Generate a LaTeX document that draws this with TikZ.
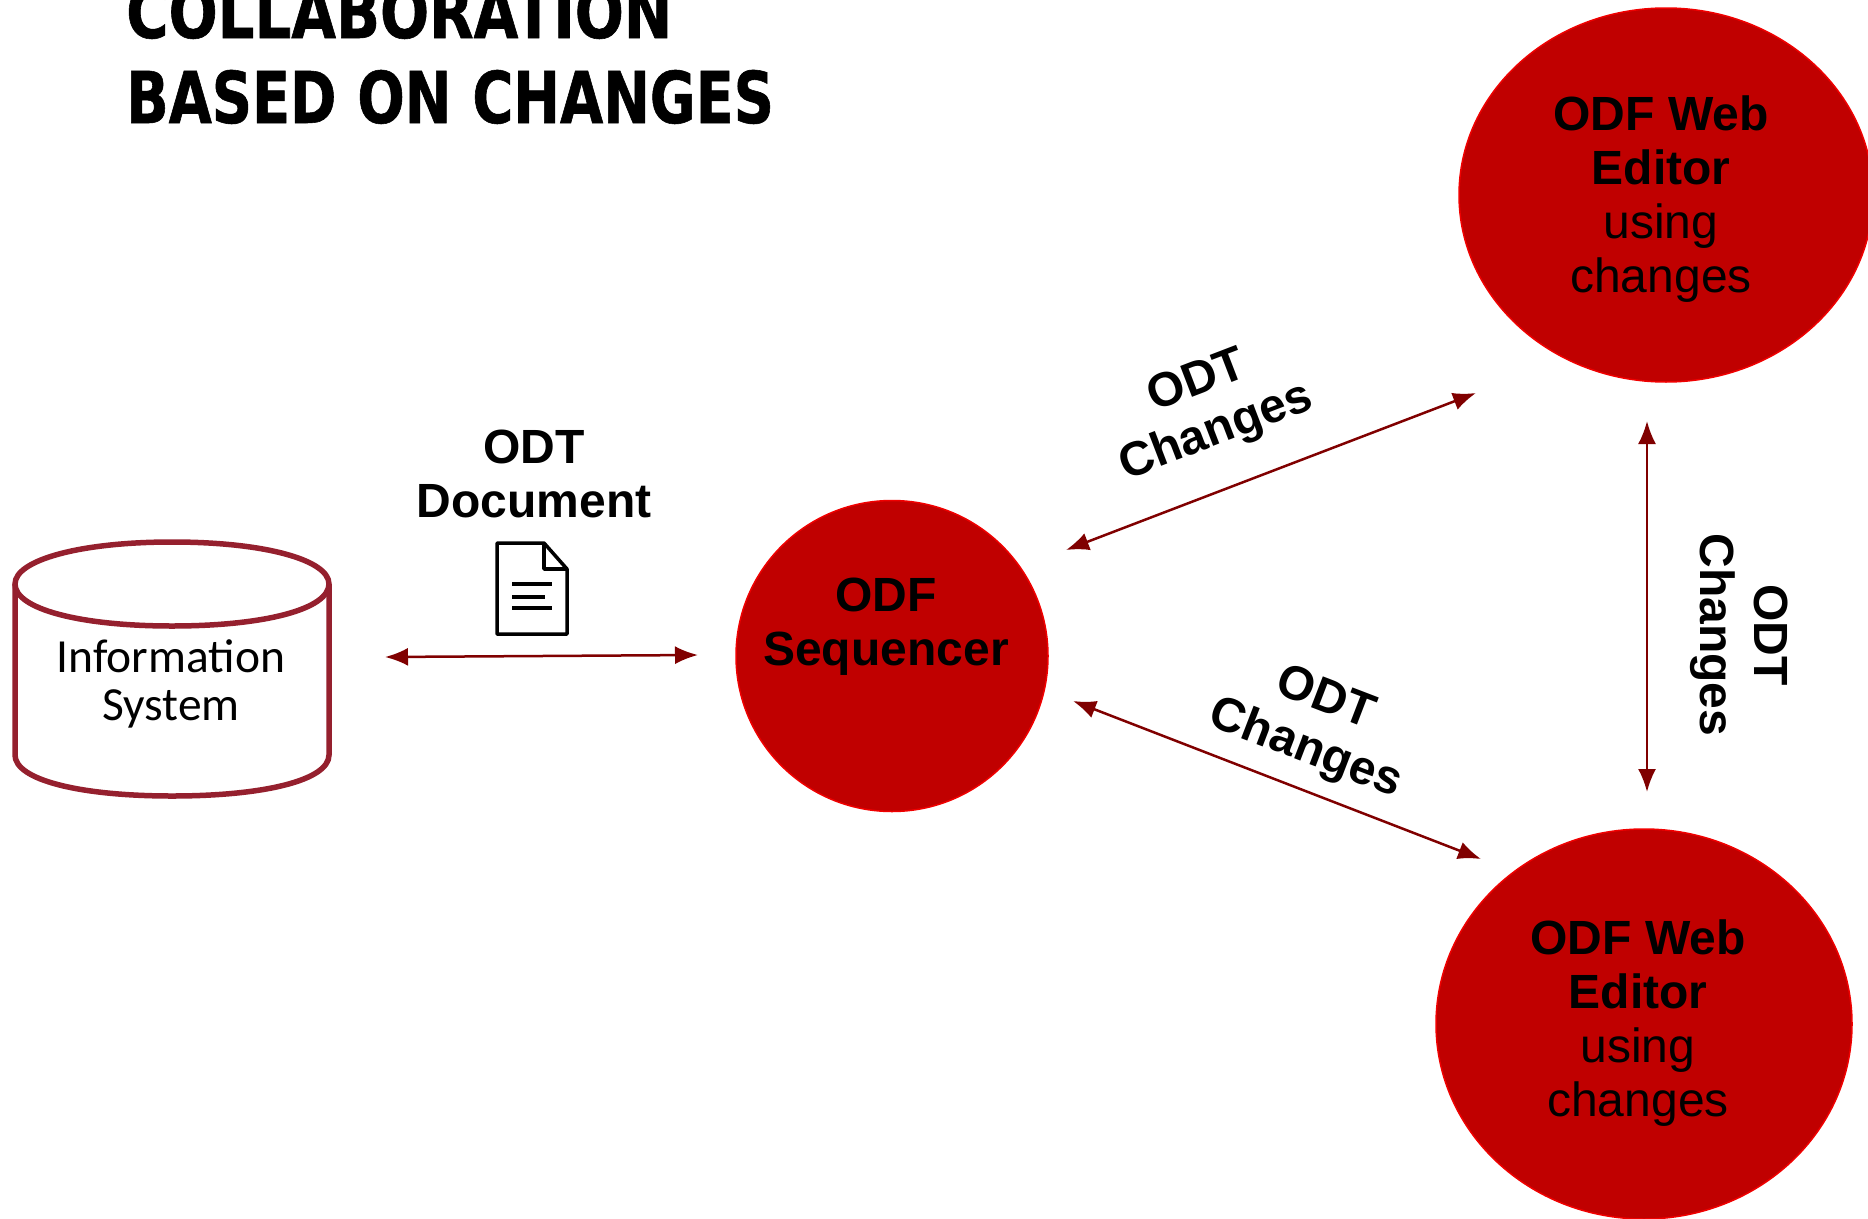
\documentclass[tikz,border=0pt]{standalone}
\usepackage{xcolor}
\usepackage{fontspec}
\usepackage{tikz}
\usetikzlibrary{arrows.meta}
\usetikzlibrary{shapes.geometric}
\setmainfont{Liberation Sans}
\newfontfamily\carlitofont{Carlito}
\newfontfamily\titlefont[FakeStretch=0.808,FakeBold=0.8]{DejaVu Sans Bold}
\newfontfamily\titlefontb[FakeStretch=0.78,FakeBold=0.8,WordSpace=1.08]{DejaVu Sans Bold}
\definecolor{odfred}{HTML}{C00000}
\definecolor{edgered}{HTML}{F00000}
\definecolor{canred}{HTML}{95202E}
\definecolor{linkred}{HTML}{800000}
\tikzset{>=Latex}
\tikzstyle{blob} = [ellipse, fill = odfred, draw = edgered, line width = 1.5pt, inner sep = 0]
\tikzstyle{lbl} = [align = center, inner sep = 0, font = \fontsize{48}{53.8}\selectfont]
\tikzstyle{ttl} = [anchor = base west, inner sep = 0, font = \fontsize{71.5}{85}\selectfont]
\tikzstyle{link} = [{Latex[length=23pt,width=18pt]}-{Latex[length=23pt,width=18pt]}, draw = linkred, line width = 2.5pt]

\begin{document}
\begin{tikzpicture}[x = 1pt, y = -1pt]
\clip (0, 0) rectangle (1868, 1218);
\node [ttl] (T1) at (126, 38) {\titlefont COLLABORATION};
\node [ttl] (T2) at (126, 123) {\titlefontb BASED ON CHANGES};
\node [blob, minimum width = 312, minimum height = 311] (SEQ) at (892, 656) {};
\node [blob, minimum width = 414, minimum height = 374] (WEB1) at (1666, 195) {};
\node [blob, minimum width = 416, minimum height = 390] (WEB2) at (1644, 1024) {};
\node [lbl] (SEQT) at (886, 627) {\textbf{ODF}\\\textbf{Sequencer}};
\node [lbl] (WEB1T) at (1661, 199) {\textbf{ODF Web}\\\textbf{Editor}\\using\\changes};
\node [lbl] (WEB2T) at (1638, 1023) {\textbf{ODF Web}\\\textbf{Editor}\\using\\changes};
% the can
\draw [draw = canred, line width = 5.5pt, fill = white] (15, 584) -- (15, 755) .. controls (15, 780) and (80, 796) .. (172, 796) .. controls (265, 796) and (329, 780) .. (329, 755) -- (329, 584);
\draw [draw = canred, line width = 5.5pt, fill = white] (172, 542) .. controls (265, 542) and (329, 560) .. (329, 584) .. controls (329, 609) and (265, 626) .. (172, 626) .. controls (80, 626) and (15, 609) .. (15, 584) .. controls (15, 560) and (80, 542) .. (172, 542) -- cycle;
\node [align = center, inner sep = 0, font = \carlitofont\fontsize{47.5}{48}\selectfont] (IS) at (171, 684) {Information\\System};
% the page icon
\draw [line width = 3.5pt, line join = round] (497, 543) -- (544, 543) -- (567, 569) -- (567, 634) -- (497, 634) -- cycle;
\draw [line width = 3.5pt, line join = round] (544, 543) -- (544, 569) -- (567, 569);
\draw [line width = 3.5pt] (512, 584) -- (552, 584);
\draw [line width = 3.5pt] (512, 597) -- (545, 597);
\draw [line width = 3.5pt] (512, 608) -- (552, 608);
\node [lbl] (DOC) at (534, 474) {\textbf{ODT}\\\textbf{Document}};
\node [lbl, rotate = 21] (CH1) at (1207, 408) {\textbf{ODT}\\\textbf{Changes}};
\node [lbl, rotate = -21] (CH2) at (1315, 725) {\textbf{ODT}\\\textbf{Changes}};
\node [lbl, rotate = -90] (CH3) at (1739, 635) {\textbf{ODT}\\\textbf{Changes}};
\coordinate (A) at (385, 657);
\coordinate (B) at (698, 655);
\coordinate (C) at (1066, 550);
\coordinate (D) at (1476, 393);
\coordinate (E) at (1073, 701);
\coordinate (F) at (1481, 859);
\coordinate (G) at (1647, 421);
\coordinate (H) at (1647, 792);
\draw [link] (A) to (B);
\draw [link] (C) to (D);
\draw [link] (E) to (F);
\draw [link] (G) to (H);
\end{tikzpicture}
\end{document}
